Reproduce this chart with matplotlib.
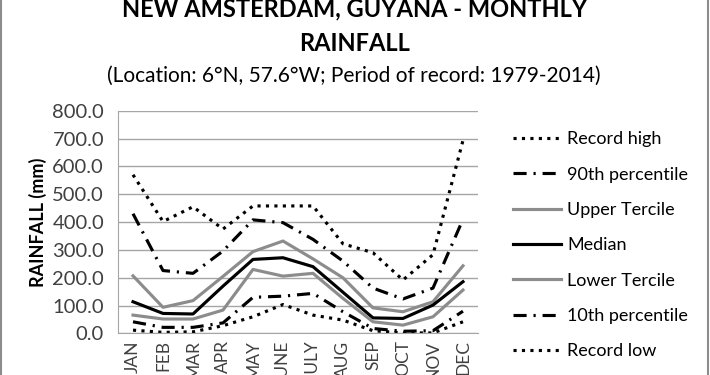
import matplotlib
matplotlib.use("Agg")
import matplotlib.pyplot as plt
from matplotlib.lines import Line2D

plt.rcParams['font.family'] = ['Lato', 'DejaVu Sans']

months = ["JAN", "FEB", "MAR", "APR", "MAY", "JUNE", "JULY", "AUG", "SEP", "OCT", "NOV", "DEC"]
record_high = [570, 402, 455, 375, 458, 458, 458, 322, 290, 192, 283, 693]
p90 = [430, 226, 216, 296, 408, 398, 338, 260, 163, 124, 163, 410]
upper_tercile = [207, 94, 118, 205, 294, 332, 268, 200, 92, 78, 114, 243]
median = [114, 72, 70, 170, 266, 272, 240, 148, 56, 54, 102, 186]
lower_tercile = [66, 52, 52, 84, 230, 206, 216, 126, 42, 30, 60, 156]
p10 = [42, 22, 22, 38, 130, 134, 144, 78, 18, 8, 10, 80]
record_low = [12, 4, 6, 28, 60, 104, 66, 48, 10, 2, 2, 42]

fig = plt.figure(figsize=(7.1, 3.75), dpi=100)
ax = fig.add_axes([0.1662, 0.1107, 0.5070, 0.5941])

x = range(len(months))
dotted = (0, (1, 1.7))
dashdot = (0, (4.2, 2.2, 0.7, 2.2))
grey = "#8c8c8c"

ax.plot(x, record_high, color="black", lw=2.25, ls=dotted, label="Record high")
ax.plot(x, p90, color="black", lw=2.25, ls=dashdot, label="90th percentile")
ax.plot(x, upper_tercile, color=grey, lw=2.25, label="Upper Tercile")
ax.plot(x, median, color="black", lw=2.25, label="Median")
ax.plot(x, lower_tercile, color=grey, lw=2.25, label="Lower Tercile")
ax.plot(x, p10, color="black", lw=2.25, ls=dashdot, label="10th percentile")
ax.plot(x, record_low, color="black", lw=2.25, ls=dotted, label="Record low")

ax.set_xlim(-0.5, 11.5)
ax.set_ylim(0, 800)
ax.set_yticks(range(0, 801, 100))
ax.set_yticklabels([f"{v:.1f}" for v in range(0, 801, 100)], fontsize=14.5, color="#404040")
ax.set_xticks(list(x))
ax.set_xticklabels(months, rotation=90, fontsize=12.5, color="#404040", va="top")
ax.tick_params(axis="y", length=0, pad=10)
ax.tick_params(axis="x", length=0, pad=5)
ax.grid(axis="y", color="#a6a6a6", lw=1)
ax.set_axisbelow(True)
for s in ["top", "right"]:
    ax.spines[s].set_visible(False)
ax.spines["left"].set_color("#a6a6a6")
ax.spines["bottom"].set_color("#a6a6a6")

fig.text(38 / 710, 1 - 222 / 375, "RAINFALL (mm)", rotation=90, ha="center", va="center",
         fontsize=13, fontweight="bold")

fig.text(0.5, 0.976, "NEW AMSTERDAM, GUYANA - MONTHLY", ha="center", va="center",
         fontsize=17, fontweight="bold")
fig.text(0.5, 0.885, "RAINFALL", ha="center", va="center", fontsize=17, fontweight="bold")
fig.text(0.498, 0.797, "(Location: 6°N, 57.6°W; Period of record: 1979-2014)", ha="center",
         va="center", fontsize=15)

fig.legend(loc="upper left", bbox_to_anchor=(0.712, 0.669), frameon=False, fontsize=13,
           handlelength=2.7, handletextpad=0.33, labelspacing=1.07, borderaxespad=0)

fig.add_artist(Line2D([0.002, 0.002], [0, 1], color="#8c8c8c", lw=1.5, transform=fig.transFigure))
fig.add_artist(Line2D([0.997, 0.997], [0, 1], color="#8c8c8c", lw=1.5, transform=fig.transFigure))

fig.savefig("out.png", dpi=100)
